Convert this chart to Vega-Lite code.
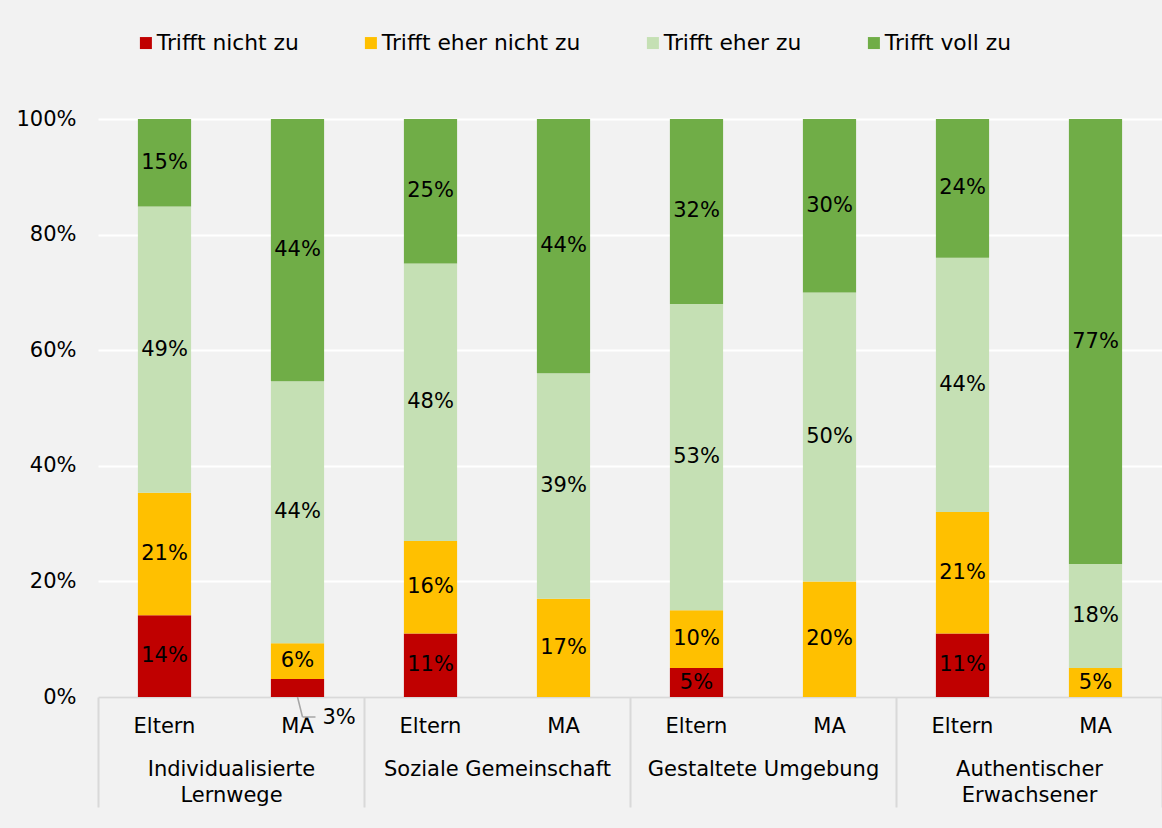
{
  "$schema": "https://vega.github.io/schema/vega-lite/v6.json",
  "autosize": "none",
  "width": 1064,
  "height": 578,
  "padding": {"left": 98, "top": 119, "right": 0, "bottom": 131},
  "background": "#f2f2f2",
  "config": {"font": "DejaVu Sans", "view": {"stroke": null}},
  "layer": [
    {
      "data": {"values": [
        {"bar": "1 Eltern", "answer": "Trifft nicht zu", "k": 1, "value": 0.14},
        {"bar": "1 Eltern", "answer": "Trifft eher nicht zu", "k": 2, "value": 0.21},
        {"bar": "1 Eltern", "answer": "Trifft eher zu", "k": 3, "value": 0.49},
        {"bar": "1 Eltern", "answer": "Trifft voll zu", "k": 4, "value": 0.15},
        {"bar": "1 MA", "answer": "Trifft nicht zu", "k": 1, "value": 0.03},
        {"bar": "1 MA", "answer": "Trifft eher nicht zu", "k": 2, "value": 0.06},
        {"bar": "1 MA", "answer": "Trifft eher zu", "k": 3, "value": 0.44},
        {"bar": "1 MA", "answer": "Trifft voll zu", "k": 4, "value": 0.44},
        {"bar": "2 Eltern", "answer": "Trifft nicht zu", "k": 1, "value": 0.11},
        {"bar": "2 Eltern", "answer": "Trifft eher nicht zu", "k": 2, "value": 0.16},
        {"bar": "2 Eltern", "answer": "Trifft eher zu", "k": 3, "value": 0.48},
        {"bar": "2 Eltern", "answer": "Trifft voll zu", "k": 4, "value": 0.25},
        {"bar": "2 MA", "answer": "Trifft nicht zu", "k": 1, "value": 0},
        {"bar": "2 MA", "answer": "Trifft eher nicht zu", "k": 2, "value": 0.17},
        {"bar": "2 MA", "answer": "Trifft eher zu", "k": 3, "value": 0.39},
        {"bar": "2 MA", "answer": "Trifft voll zu", "k": 4, "value": 0.44},
        {"bar": "3 Eltern", "answer": "Trifft nicht zu", "k": 1, "value": 0.05},
        {"bar": "3 Eltern", "answer": "Trifft eher nicht zu", "k": 2, "value": 0.10},
        {"bar": "3 Eltern", "answer": "Trifft eher zu", "k": 3, "value": 0.53},
        {"bar": "3 Eltern", "answer": "Trifft voll zu", "k": 4, "value": 0.32},
        {"bar": "3 MA", "answer": "Trifft nicht zu", "k": 1, "value": 0},
        {"bar": "3 MA", "answer": "Trifft eher nicht zu", "k": 2, "value": 0.20},
        {"bar": "3 MA", "answer": "Trifft eher zu", "k": 3, "value": 0.50},
        {"bar": "3 MA", "answer": "Trifft voll zu", "k": 4, "value": 0.30},
        {"bar": "4 Eltern", "answer": "Trifft nicht zu", "k": 1, "value": 0.11},
        {"bar": "4 Eltern", "answer": "Trifft eher nicht zu", "k": 2, "value": 0.21},
        {"bar": "4 Eltern", "answer": "Trifft eher zu", "k": 3, "value": 0.44},
        {"bar": "4 Eltern", "answer": "Trifft voll zu", "k": 4, "value": 0.24},
        {"bar": "4 MA", "answer": "Trifft nicht zu", "k": 1, "value": 0},
        {"bar": "4 MA", "answer": "Trifft eher nicht zu", "k": 2, "value": 0.05},
        {"bar": "4 MA", "answer": "Trifft eher zu", "k": 3, "value": 0.18},
        {"bar": "4 MA", "answer": "Trifft voll zu", "k": 4, "value": 0.77}
      ]},
      "layer": [
        {
          "mark": {"type": "bar"},
          "encoding": {
            "x": {
              "field": "bar", "type": "nominal",
              "scale": {"paddingInner": 0.6, "paddingOuter": 0.3},
              "axis": {
                "title": null, "orient": "bottom", "domain": true, "domainColor": "#d9d9d9", "domainWidth": 2,
                "ticks": false, "grid": false, "labelPadding": 18, "labelBaseline": "top", "labelAngle": 0,
                "labelFontSize": 21, "labelColor": "#000000", "labelLimit": 0, "labelOverlap": false,
                "labelExpr": "split(datum.label, ' ')[1]"
              }
            },
            "y": {
              "field": "value", "type": "quantitative", "stack": "normalize",
              "axis": {
                "title": null, "format": ".0%", "values": [0, 0.2, 0.4, 0.6, 0.8, 1],
                "domain": false, "ticks": false, "labelPadding": 22, "labelFontSize": 21,
                "labelColor": "#000000", "grid": true, "gridColor": "#ffffff", "gridWidth": 2
              }
            },
            "color": {
              "field": "answer", "type": "nominal",
              "scale": {
                "domain": ["Trifft nicht zu", "Trifft eher nicht zu", "Trifft eher zu", "Trifft voll zu"],
                "range": ["#c00000", "#ffc000", "#c5e0b4", "#70ad47"]
              },
              "legend": {
                "title": null, "orient": "none", "legendX": 37, "legendY": -87, "direction": "horizontal",
                "symbolType": "square", "symbolSize": 144, "symbolStrokeWidth": 0, "labelFontSize": 21.8,
                "labelColor": "#000000", "labelOffset": 0, "columnPadding": 61, "labelLimit": 0, "padding": 0
              }
            },
            "order": {"field": "k", "type": "quantitative"}
          }
        },
        {
          "mark": {"type": "text", "fontSize": 21, "color": "#000000", "baseline": "middle"},
          "encoding": {
            "x": {"field": "bar", "type": "nominal"},
            "y": {"field": "value", "type": "quantitative", "stack": "normalize", "bandPosition": 0.5},
            "detail": {"field": "answer"},
            "order": {"field": "k", "type": "quantitative"},
            "text": {"field": "value", "type": "quantitative", "format": ".0%"},
            "opacity": {"condition": {"test": "datum.value < 0.04", "value": 0}, "value": 1}
          }
        },
        {
          "transform": [{"filter": "datum.value > 0 && datum.value < 0.04"}],
          "mark": {"type": "text", "fontSize": 21, "color": "#000000", "align": "left", "baseline": "middle", "dx": 25, "dy": 21},
          "encoding": {
            "x": {"field": "bar", "type": "nominal"},
            "y": {"datum": 0},
            "text": {"field": "value", "type": "quantitative", "format": ".0%"}
          }
        },
        {
          "transform": [{"filter": "datum.value > 0 && datum.value < 0.04"}],
          "mark": {"type": "rule", "color": "#a6a6a6", "strokeWidth": 1.5, "x2Offset": 5, "y2Offset": 20},
          "encoding": {
            "x": {"field": "bar", "type": "nominal"},
            "x2": {"field": "bar"},
            "y": {"datum": 0},
            "y2": {"datum": 0}
          }
        },
        {
          "transform": [{"filter": "datum.value > 0 && datum.value < 0.04"}],
          "mark": {"type": "rule", "color": "#a6a6a6", "strokeWidth": 1.5, "xOffset": 5, "x2Offset": 18, "yOffset": 20, "y2Offset": 20},
          "encoding": {
            "x": {"field": "bar", "type": "nominal"},
            "x2": {"field": "bar"},
            "y": {"datum": 0},
            "y2": {"datum": 0}
          }
        }
      ]
    },
    {
      "data": {"values": [
        {"group": "Individualisierte Lernwege"},
        {"group": "Soziale Gemeinschaft"},
        {"group": "Gestaltete Umgebung"},
        {"group": "Authentischer Erwachsener"}
      ]},
      "mark": {"type": "point", "opacity": 0},
      "encoding": {
        "x": {
          "field": "group", "type": "nominal",
          "sort": ["Individualisierte Lernwege", "Soziale Gemeinschaft", "Gestaltete Umgebung", "Authentischer Erwachsener"],
          "scale": {"paddingInner": 0, "paddingOuter": 0},
          "axis": {
            "title": null, "orient": "bottom", "domain": false, "grid": false,
            "ticks": true, "tickSize": 110, "tickColor": "#d9d9d9", "tickWidth": 2, "tickBand": "extent",
            "labelPadding": -49, "labelBaseline": "top", "labelAngle": 0, "labelFontSize": 21,
            "labelColor": "#000000", "labelLineHeight": 26, "labelLimit": 0, "labelOverlap": false,
            "labelExpr": "datum.label == 'Individualisierte Lernwege' ? ['Individualisierte', 'Lernwege'] : datum.label == 'Authentischer Erwachsener' ? ['Authentischer', 'Erwachsener'] : datum.label"
          }
        }
      }
    }
  ],
  "resolve": {"scale": {"x": "independent"}, "axis": {"x": "independent"}}
}
